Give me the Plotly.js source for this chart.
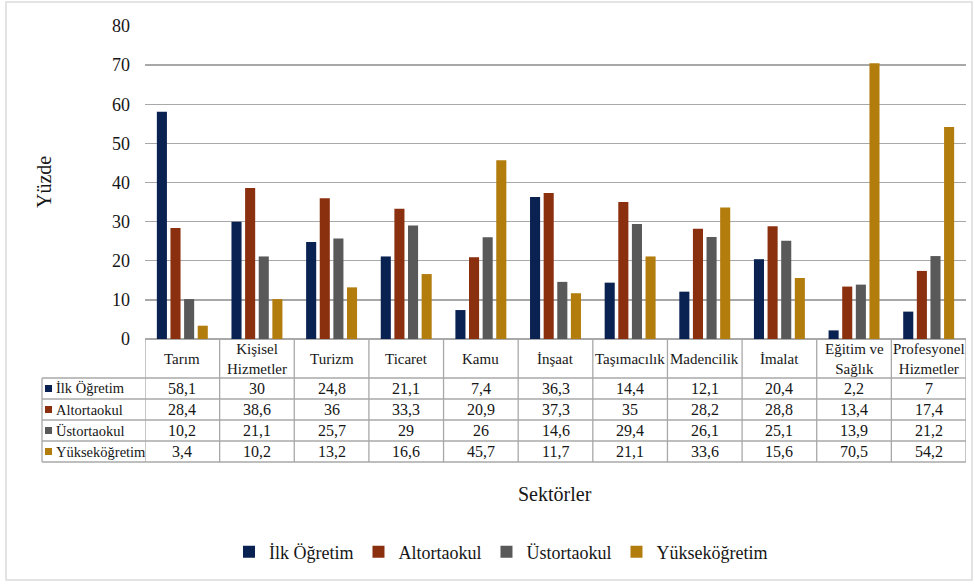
<!DOCTYPE html>
<html>
<head>
<meta charset="utf-8">
<script src="https://cdn.plot.ly/plotly-3.0.1.min.js"></script>
<style>
  html, body { margin: 0; padding: 0; background: #ffffff; }
  #chart { width: 975px; height: 584px; }
</style>
</head>
<body>
<div id="chart"></div>
<script>
// Sectors (table column headers)
const sectors = ["Tarım", "Kişisel<br>Hizmetler", "Turizm", "Ticaret", "Kamu", "İnşaat",
                 "Taşımacılık", "Madencilik", "İmalat", "Eğitim ve<br>Sağlık", "Profesyonel<br>Hizmetler"];

// Education level series names
const seriesNames = ["İlk Öğretim", "Altortaokul", "Üstortaokul", "Yükseköğretim"];

// Percentages per sector for each education level
const ilkOgretim    = [58.1, 30, 24.8, 21.1, 7.4, 36.3, 14.4, 12.1, 20.4, 2.2, 7];
const altortaokul   = [28.4, 38.6, 36, 33.3, 20.9, 37.3, 35, 28.2, 28.8, 13.4, 17.4];
const ustortaokul   = [10.2, 21.1, 25.7, 29, 26, 14.6, 29.4, 26.1, 25.1, 13.9, 21.2];
const yuksekogretim = [3.4, 10.2, 13.2, 16.6, 45.7, 11.7, 21.1, 33.6, 15.6, 70.5, 54.2];

const yTicks = [0, 10, 20, 30, 40, 50, 60, 70, 80];

const seriesValues = [ilkOgretim, altortaokul, ustortaokul, yuksekogretim];
const colors = ["#0a2252", "#8a300f", "#595959", "#b37d0e"];

const FONT = '"Liberation Serif", "Times New Roman", serif';
const TEXT = "#161616";
const LINE = "#a8a8a8";

// Plot area geometry (pixels)
const W = 975, H = 584;
const M = { l: 145, r: 9, t: 26, b: 245 };
const plotW = W - M.l - M.r;
const plotH = H - M.t - M.b;
const yBase = H - M.b;            // pixel row of the value 0

// pixel -> paper coordinate helpers
const py = p => (yBase - p) / plotH;
const px = p => (p - M.l) / plotW;

const traces = seriesValues.map((vals, i) => ({
  type: "bar",
  name: seriesNames[i],
  x: sectors.map((_, k) => k),
  y: vals,
  marker: { color: colors[i], line: { width: 0 } },
  hoverinfo: "y+name"
}));

// Data table underneath the bars
const rowEdges = [yBase, 378, 399, 420, 441, 462];  // header row, then one row per series
const tableLeft = 42;
const shapes = [];
const annotations = [];

// horizontal rules
for (let r = 1; r < rowEdges.length; r++) {
  shapes.push({ type: "line", xref: "paper", yref: "paper",
    x0: px(tableLeft), x1: 1, y0: py(rowEdges[r]), y1: py(rowEdges[r]),
    line: { color: LINE, width: 1.3 } });
}
// column rules for sector columns
for (let c = 0; c <= sectors.length; c++) {
  shapes.push({ type: "line", xref: "x", yref: "paper",
    x0: c - 0.5, x1: c - 0.5, y0: py(rowEdges[0]), y1: py(rowEdges[rowEdges.length - 1]),
    line: { color: LINE, width: 1.3 } });
}
// left edge of the series-name column
shapes.push({ type: "line", xref: "paper", yref: "paper",
  x0: px(tableLeft), x1: px(tableLeft), y0: py(rowEdges[1]), y1: py(rowEdges[rowEdges.length - 1]),
  line: { color: LINE, width: 1.3 } });

// header labels
sectors.forEach((s, k) => {
  annotations.push({ xref: "x", yref: "paper", x: k, y: py((rowEdges[0] + rowEdges[1]) / 2),
    text: s, showarrow: false, xanchor: "center", yanchor: "middle",
    font: { family: FONT, size: 15, color: TEXT } });
});

// series rows: legend key, name, values
seriesValues.forEach((vals, i) => {
  const mid = (rowEdges[i + 1] + rowEdges[i + 2]) / 2;
  shapes.push({ type: "rect", xref: "paper", yref: "paper",
    x0: px(45), x1: px(52), y0: py(mid + 3.5), y1: py(mid - 3.5),
    fillcolor: colors[i], line: { width: 0 } });
  annotations.push({ xref: "paper", yref: "paper", x: px(54), y: py(mid),
    text: seriesNames[i], showarrow: false, xanchor: "left", yanchor: "middle",
    font: { family: FONT, size: 14.5, color: TEXT } });
  vals.forEach((v, k) => {
    annotations.push({ xref: "x", yref: "paper", x: k, y: py(mid),
      text: String(v).replace(".", ","), showarrow: false, xanchor: "center", yanchor: "middle",
      font: { family: FONT, size: 16, color: TEXT } });
  });
});

// axis titles
annotations.push({ xref: "paper", yref: "paper", x: px(44), y: py(182),
  text: "Yüzde", textangle: -90, showarrow: false, xanchor: "center", yanchor: "middle",
  font: { family: FONT, size: 20, color: TEXT } });
annotations.push({ xref: "paper", yref: "paper", x: px(555), y: py(494),
  text: "Sektörler", showarrow: false, xanchor: "center", yanchor: "middle",
  font: { family: FONT, size: 20, color: TEXT } });

// faint outer frame
shapes.push({ type: "rect", xref: "paper", yref: "paper",
  x0: px(6), x1: px(972), y0: py(2), y1: py(580),
  line: { color: "#dcdcdc", width: 1.5 }, fillcolor: "rgba(0,0,0,0)", layer: "below" });

const layout = {
  width: W, height: H,
  margin: M,
  paper_bgcolor: "#ffffff",
  plot_bgcolor: "#ffffff",
  barmode: "group",
  bargap: 0.27,
  bargroupgap: 0.26,
  showlegend: true,
  legend: {
    orientation: "h",
    x: px(501), xanchor: "center",
    y: py(552), yanchor: "middle",
    font: { family: FONT, size: 18, color: TEXT },
    itemwidth: 30,
    traceorder: "normal"
  },
  xaxis: {
    type: "linear",
    range: [-0.5, sectors.length - 0.5],
    showticklabels: false,
    showgrid: false,
    zeroline: false,
    showline: false,
    fixedrange: true
  },
  yaxis: {
    range: [0, 80],
    tickvals: yTicks,
    ticktext: yTicks.map(String),
    showgrid: true,
    gridcolor: LINE,
    gridwidth: 1.3,
    zeroline: true,
    zerolinecolor: LINE,
    zerolinewidth: 1.3,
    showline: false,
    ticks: "",
    ticklabelstandoff: 14,
    tickfont: { family: FONT, size: 18, color: TEXT },
    fixedrange: true
  },
  shapes: shapes,
  annotations: annotations
};

Plotly.newPlot("chart", traces, layout, { displayModeBar: false, staticPlot: true });
</script>
</body>
</html>
